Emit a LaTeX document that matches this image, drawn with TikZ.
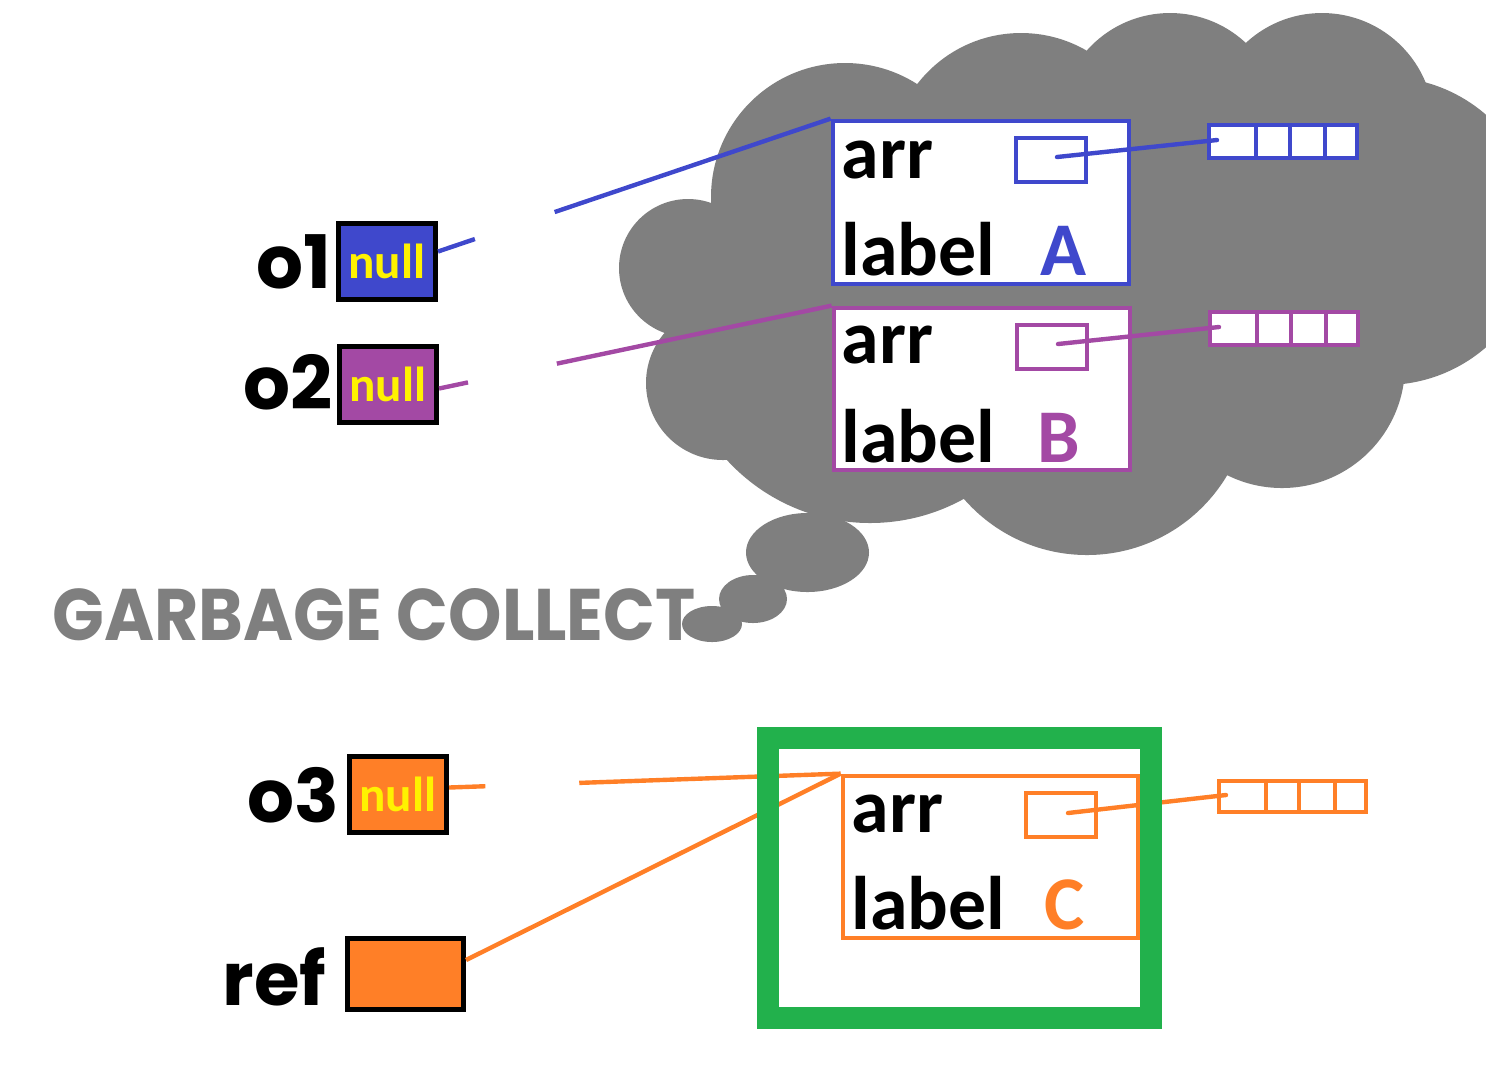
\documentclass[tikz,border=0pt]{standalone}
\usepackage{fontspec}
\setmainfont{Carlito}
\newfontfamily\comicfont{Poppins}
\usepackage{graphicx}
\definecolor{blueA}{HTML}{3F48CC}
\definecolor{purpleB}{HTML}{A349A4}
\definecolor{orangeC}{HTML}{FF7F27}
\definecolor{greenGC}{HTML}{22B14C}
\definecolor{cloudgray}{HTML}{7F7F7F}
\definecolor{nullyellow}{HTML}{FFF200}

\begin{document}
\begin{tikzpicture}
    \tikzstyle{varbox}=[draw=black, line width=1.3pt, minimum width=0.975cm,
      minimum height=0.765cm, inner sep=0pt, text=nullyellow,
      font=\fontsize{14}{16}\selectfont\bfseries]
    \tikzstyle{objbox}=[fill=white, line width=1.35pt, minimum width=2.96cm,
      minimum height=1.63cm, inner sep=0pt]
    \tikzstyle{ptrbox}=[line width=1.25pt, minimum width=0.70cm,
      minimum height=0.44cm, inner sep=0pt]
    \tikzstyle{arrcell}=[fill=white, line width=1.35pt]
    \tikzstyle{field}=[anchor=base west, inner sep=0pt,
      font=\fontsize{21.6}{24}\selectfont\bfseries]
    \tikzstyle{vname}=[anchor=base east, inner sep=0pt,
      font=\comicfont\fontsize{21}{24}\selectfont\bfseries]
    \tikzstyle{link}=[line width=1.25pt]
    \tikzstyle{ptrline}=[line width=1.25pt, line cap=round]
    % Page
    \path[use as bounding box, clip] (0,0) rectangle (14.86,-10.84);
    % Caption
    \node[anchor=south west, inner sep=0pt, text=cloudgray] (gc) at (0.52,-6.42)
      {\resizebox{6.43cm}{0.52cm}{\comicfont\bfseries GARBAGE COLLECT}};
    % Draw the cloud
    \fill[cloudgray] (8.45,-1.97) circle (1.34) (10.21,-1.64) circle (1.31)
      (11.70,-1.24) circle (1.11) (13.22,-1.25) circle (1.12)
      (13.85,-2.31) circle (1.54) (12.82,-3.65) circle (1.23)
      (10.87,-3.92) circle (1.63) (8.70,-3.29) circle (1.94)
      (7.23,-3.83) circle (0.77) (6.88,-2.68) circle (0.69)
      (10.5,-3.0) ellipse (3.3 and 1.7);
    \fill[cloudgray] (8.075,-5.525) ellipse (0.615 and 0.395)
      (7.53,-5.99) ellipse (0.34 and 0.24) (7.12,-6.24) ellipse (0.30 and 0.18);
    % Variables
    \node[varbox, fill=blueA] (o1) at (3.87,-2.615) {null};
    \node[varbox, fill=purpleB] (o2) at (3.88,-3.845) {null};
    \node[varbox, fill=orangeC] (o3) at (3.98,-7.945) {null};
    \node[varbox, fill=orangeC, minimum width=1.165cm, minimum height=0.715cm] (refbox) at (4.055,-9.74) {};
    \node[vname] (o1txt) at (3.32,-2.88) {o1};
    \node[vname] (o2txt) at (3.33,-4.09) {o2};
    \node[vname] (o3txt) at (3.40,-8.22) {o3};
    \node[vname] (reftxt) at (3.27,-10.05) {ref};
    % Objects in the cloud
    \node[objbox, draw=blueA] (objA) at (9.81,-2.025) {};
    \node[objbox, draw=purpleB, minimum height=1.62cm] (objB) at (9.82,-3.89) {};
    \draw[link, blueA, dash pattern=on 0.389cm off 0.842cm on 6cm] ([yshift=0.1cm]o1.east) -- (objA.north west);
    \draw[link, purpleB, dash pattern=on 0.296cm off 0.908cm on 6cm] ([yshift=-0.04cm]o2.east) -- (objB.north west);
    \node[field] (arrA) at (8.41,-1.78) {arr};
    \node[field] (labA) at (8.41,-2.75) {label};
    \node[field, text=blueA] (valA) at (10.40,-2.75) {A};
    \node[field] (arrB) at (8.41,-3.63) {arr};
    \node[field] (labB) at (8.41,-4.62) {label};
    \node[field, text=purpleB] (valB) at (10.37,-4.62) {B};
    \node[ptrbox, draw=blueA] (ptrA) at (10.51,-1.60) {};
    \node[ptrbox, draw=purpleB] (ptrB) at (10.52,-3.47) {};
    % Arrays
    \foreach \xa/\xb in {12.09/12.56,12.56/12.90,12.90/13.25,13.25/13.57}
      \draw[arrcell, draw=blueA] (\xa,-1.25) rectangle (\xb,-1.58);
    \foreach \xa/\xb in {12.10/12.57,12.57/12.91,12.91/13.26,13.26/13.58}
      \draw[arrcell, draw=purpleB] (\xa,-3.12) rectangle (\xb,-3.45);
    \coordinate (pA) at (10.57,-1.57);
    \coordinate (cA) at (12.17,-1.40);
    \coordinate (pB) at (10.58,-3.44);
    \coordinate (cB) at (12.19,-3.27);
    \draw[ptrline, blueA] (pA) -- (cA);
    \draw[ptrline, purpleB] (pB) -- (cB);
    % Object still referenced
    \node[objbox, draw=orangeC, minimum width=2.95cm, minimum height=1.62cm] (objC) at (9.905,-8.57) {};
    \draw[link, orangeC, dash pattern=on 0.363cm off 0.94cm on 6cm] ([yshift=0.07cm]o3.east) -- (objC.north west);
    \draw[link, orangeC] ([yshift=0.14cm]refbox.east) -- (objC.north west);
    \node[field] (arrC) at (8.51,-8.32) {arr};
    \node[field] (labC) at (8.51,-9.29) {label};
    \node[field, text=orangeC] (valC) at (10.44,-9.29) {C};
    \node[ptrbox, draw=orangeC] (ptrC) at (10.61,-8.15) {};
    \foreach \xa/\xb in {12.19/12.66,12.66/12.99,12.99/13.35,13.35/13.66}
      \draw[arrcell, draw=orangeC] (\xa,-7.81) rectangle (\xb,-8.12);
    \coordinate (pC) at (10.68,-8.13);
    \coordinate (cC) at (12.26,-7.95);
    \draw[ptrline, orangeC] (pC) -- (cC);
    % Frame
    \node[draw=greenGC, line width=0.22cm, minimum width=3.83cm, minimum height=2.80cm, inner sep=0pt] (frame) at (9.595,-8.78) {};
\end{tikzpicture}
\end{document}
